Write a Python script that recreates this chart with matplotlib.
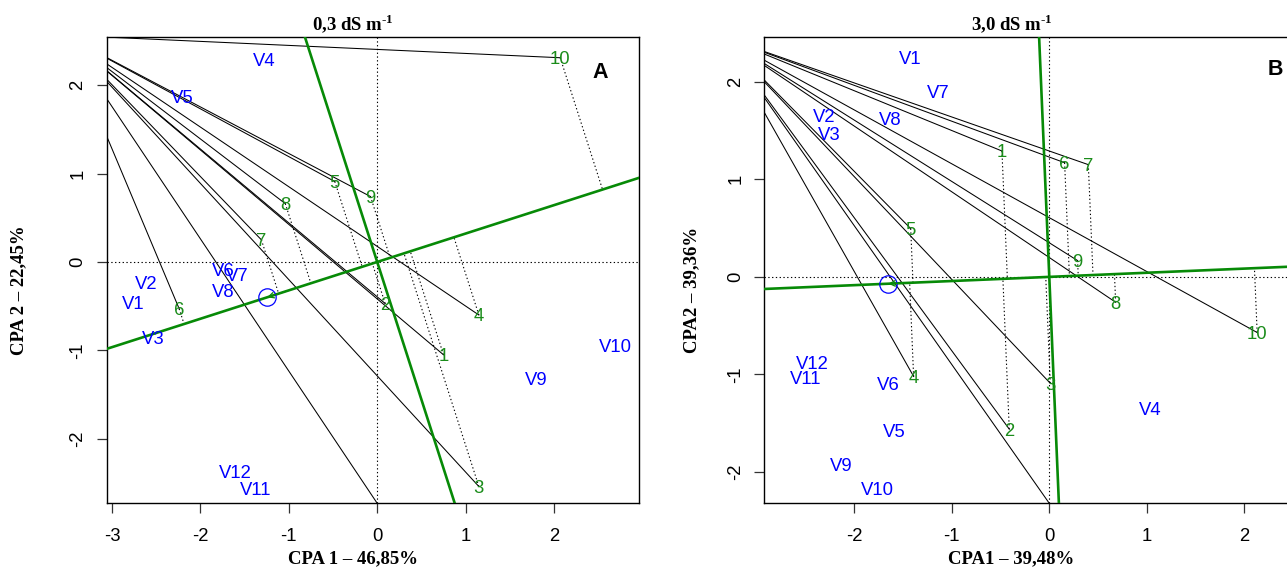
import numpy as np
import matplotlib
matplotlib.use("Agg")
import matplotlib.pyplot as plt

plt.rcParams['font.family'] = ['Liberation Sans', 'DejaVu Sans']
plt.rcParams['axes.unicode_minus'] = False
plt.rcParams['mathtext.fontset'] = 'custom'
plt.rcParams['mathtext.rm'] = 'Liberation Serif:bold'
plt.rcParams['mathtext.bf'] = 'Liberation Serif:bold'

# ---------------- data ----------------
env_labels = [str(i) for i in range(1, 11)]
gen_labels = ['V%d' % i for i in range(1, 13)]

# Panel A (0,3 dS m-1)
envA_x = [0.75, 0.09, 1.15, 1.15, -0.48, -2.24, -1.31, -1.04, -0.076, 2.07]
envA_y = [-1.05, -0.47, -2.54, -0.60, 0.91, -0.53, 0.25, 0.66, 0.74, 2.31]
genA_x = [-2.76, -2.61, -2.53, -1.28, -2.20, -1.74, -1.58, -1.74, 1.80, 2.69, -1.37, -1.61]
genA_y = [-0.46, -0.23, -0.85, 2.29, 1.87, -0.08, -0.14, -0.32, -1.32, -0.94, -2.56, -2.37]
avgA = (-1.245, -0.40)
hubA = (-3.54, 2.565)
tailA = (0.0, -2.73)
xlimA = (-3.06, 2.958)
ylimA = (-2.73, 2.548)

# Panel B (3,0 dS m-1)
envB_x = [-0.485, -0.41, 0.01, -1.39, -1.42, 0.157, 0.40, 0.68, 0.29, 2.13]
envB_y = [1.29, -1.56, -1.09, -1.02, 0.495, 1.17, 1.15, -0.26, 0.167, -0.57]
genB_x = [-1.424, -2.31, -2.25, 1.035, -1.585, -1.65, -1.134, -1.63, -2.13, -1.76, -2.50, -2.43]
genB_y = [2.25, 1.65, 1.47, -1.35, -1.57, -1.09, 1.90, 1.62, -1.92, -2.165, -1.03, -0.875]
avgB = (-1.65, -0.07)
hubB = (-3.36, 2.463)
tailB = (0.0, -2.32)
xlimB = (-2.92, 2.531)
ylimB = (-2.32, 2.461)

GREEN = '#1a8c1a'
GREEN_LINE = '#078a07'
BLUE = '#0000ff'
W, H = 1287, 570


def draw_panel(ax, ex, ey, gx, gy, avg, hub, tail, xlim, ylim, letter, letter_pos):
    ex = np.asarray(ex); ey = np.asarray(ey)
    ax.set_xlim(*xlim)
    ax.set_ylim(*ylim)

    # reference axes through the origin
    ax.axhline(0, color='black', lw=0.8, ls=(0, (1.2, 2.2)), zorder=1)
    ax.axvline(0, color='black', lw=0.8, ls=(0, (1.2, 2.2)), zorder=1)

    # lines from the common vertex to every environment
    for x, y in list(zip(ex, ey)) + [tail]:
        ax.plot([hub[0], x], [hub[1], y], color='black', lw=0.75, zorder=2)

    # average-environment axis and its perpendicular
    u = np.array(avg) / np.hypot(*avg)
    t = np.array([-20, 20])
    ax.plot(t * u[0], t * u[1], color=GREEN_LINE, lw=1.9, zorder=3)
    ax.plot(-t * u[1], t * u[0], color=GREEN_LINE, lw=1.9, zorder=3)

    # projections of environments onto the average-environment axis
    for x, y in zip(ex, ey):
        s = x * u[0] + y * u[1]
        ax.plot([x, s * u[0]], [y, s * u[1]], color='black', lw=0.8,
                ls=(0, (1.2, 2.2)), zorder=2)

    # average environment marker with arrow head pointing to it
    ax.plot(avg[0], avg[1], marker='o', ms=12.5, mfc='none', mec=BLUE,
            mew=0.9, zorder=5)
    start = (avg[0] - 0.25 * u[0], avg[1] - 0.25 * u[1])
    ax.annotate('', xy=avg, xytext=start,
                arrowprops=dict(arrowstyle='->', color=GREEN_LINE, lw=0.9,
                                mutation_scale=10, shrinkA=0, shrinkB=0),
                zorder=5)

    for lab, x, y in zip(env_labels, ex, ey):
        ax.text(x, y, lab, color=GREEN, fontsize=13.3, ha='center',
                va='center_baseline', zorder=6)
    for lab, x, y in zip(gen_labels, gx, gy):
        ax.text(x, y, lab, color=BLUE, fontsize=13.3, ha='center',
                va='center_baseline', zorder=6)

    ax.text(letter_pos[0], letter_pos[1], letter, transform=ax.transAxes,
            fontsize=15.5, fontweight='bold', ha='center', va='center',
            color='black')

    ax.set_xticks([v for v in range(-3, 3) if xlim[0] <= v <= xlim[1]])
    ax.set_yticks([-2, -1, 0, 1, 2])
    ax.tick_params(axis='both', direction='out', length=7.5, width=0.9,
                   labelsize=13.3, color='#333333')
    ax.tick_params(axis='x', pad=10)
    ax.tick_params(axis='y', pad=7)
    for lbl in ax.get_yticklabels():
        lbl.set_rotation(90)
        lbl.set_va('center')
    for sp in ax.spines.values():
        sp.set_linewidth(1.0)
        sp.set_color('black')


fig = plt.figure(figsize=(W / 100, H / 100), dpi=100)
fig.patch.set_facecolor('white')

axw, axh = 532 / W, 466.6 / H
bottom = (H - 503.3) / H
axA = fig.add_axes([106.7 / W, bottom, axw, axh])
axB = fig.add_axes([764.3 / W, bottom, axw, axh])

draw_panel(axA, envA_x, envA_y, genA_x, genA_y, avgA, hubA, tailA,
           xlimA, ylimA, 'A', (0.927, 0.924))
draw_panel(axB, envB_x, envB_y, genB_x, genB_y, avgB, hubB, tailB,
           xlimB, ylimB, 'B', (0.960, 0.929))

lab_kw = dict(family='Liberation Serif', fontweight='bold', fontsize=13.5,
              ha='center', va='center')
fig.text(353 / W, (H - 24.7) / H, r'0,3 dS m$^{\text{-1}}$', **lab_kw)
fig.text(1012 / W, (H - 24.7) / H, r'3,0 dS m$^{\text{-1}}$', **lab_kw)
fig.text(353 / W, (H - 559) / H, 'CPA 1 – 46,85%', **lab_kw)
fig.text(1011 / W, (H - 559) / H, 'CPA1 – 39,48%', **lab_kw)
fig.text(18.7 / W, (H - 290) / H, 'CPA 2 – 22,45%', rotation=90, **lab_kw)
fig.text(692 / W, (H - 290) / H, 'CPA2 – 39,36%', rotation=90, **lab_kw)

fig.savefig('out.png', dpi=100, facecolor='white')
